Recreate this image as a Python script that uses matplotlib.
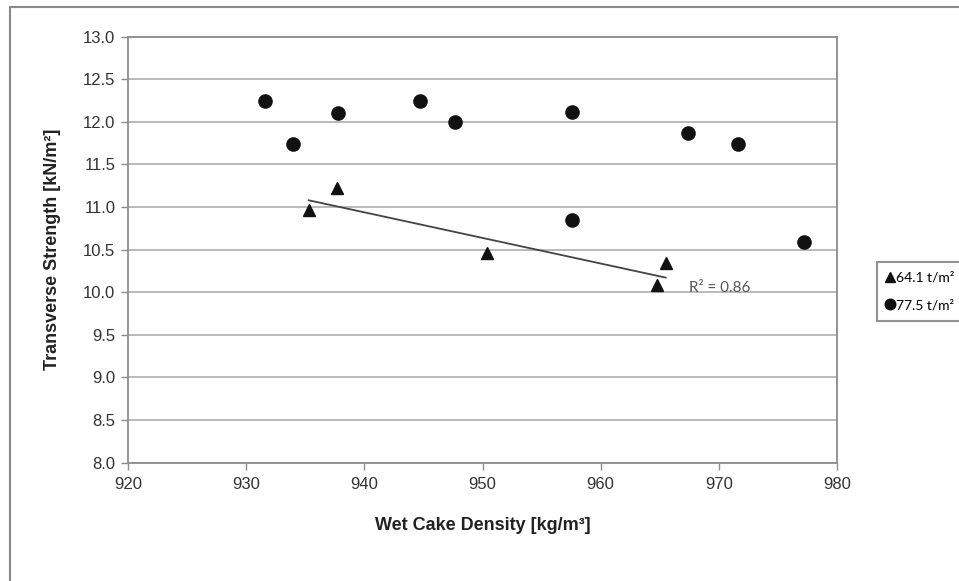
import numpy as np
import matplotlib
matplotlib.use('agg')
import matplotlib.pyplot as plt
from matplotlib.patches import Rectangle

# data
tri_x = [935.3, 937.7, 950.4, 964.8, 965.5]
tri_y = [10.97, 11.22, 10.46, 10.09, 10.34]
circ_x = [931.6, 934.0, 937.8, 944.7, 947.7, 957.6, 957.6, 967.4, 971.6, 977.2]
circ_y = [12.25, 11.74, 12.11, 12.25, 12.00, 12.12, 10.85, 11.87, 11.74, 10.59]
tri_label = '64.1 t/m²'
circ_label = '77.5 t/m²'
r2_text = 'R² = 0.86'
x_ticks = [920, 930, 940, 950, 960, 970, 980]
y_ticks = np.arange(8.0, 13.01, 0.5)

plt.rcParams['font.family'] = ['Liberation Sans', 'DejaVu Sans']

fig = plt.figure(figsize=(9.59, 5.81), dpi=100)
fig.patch.set_facecolor('white')

# outer chart frame (clipped at right and bottom like the reference)
fig.patches.append(Rectangle((10 / 959, -0.05), 1.1, 1 - 7 / 581 + 0.05,
                             transform=fig.transFigure, fill=False,
                             edgecolor='#8a8a8a', linewidth=1.5, zorder=0))

ax = fig.add_axes([128 / 959, 1 - 462.7 / 581, (837 - 128) / 959, (462.7 - 36.7) / 581])

ax.set_xlim(920, 980)
ax.set_ylim(8.0, 13.0)
ax.set_xticks(x_ticks)
ax.set_yticks(y_ticks)
ax.set_yticklabels(['%.1f' % v for v in y_ticks])
ax.yaxis.grid(True, color='#b4b4b4', linewidth=1.3)
ax.set_axisbelow(True)
for s in ax.spines.values():
    s.set_color('#8c8c8c')
    s.set_linewidth(1.3)
ax.tick_params(axis='both', colors='#8c8c8c', labelcolor='#333333',
               labelsize=12, length=5, width=1)
ax.tick_params(axis='y', pad=4)
ax.tick_params(axis='x', pad=5)

ax.plot(tri_x, tri_y, linestyle='none', marker='^', markersize=8.5,
        color='#111111', label=tri_label)
ax.plot(circ_x, circ_y, linestyle='none', marker='o', markersize=9.5,
        color='#111111', label=circ_label)

# linear trendline for the triangle series
k, b = np.polyfit(tri_x, tri_y, 1)
fx = np.array([min(tri_x), max(tri_x)])
ax.plot(fx, k * fx + b, color='#444444', linewidth=1.3)
ax.text(967.5, 10.05, r2_text, fontsize=11, color='#555555',
        family=['Lato', 'DejaVu Sans'], va='center', ha='left')

ax.set_xlabel('Wet Cake Density [kg/m³]', fontsize=13, fontweight='bold',
              color='#222222', labelpad=18)
ax.set_ylabel('Transverse Strength [kN/m²]', fontsize=13, fontweight='bold',
              color='#222222', labelpad=16)

leg = fig.legend(loc='upper left', bbox_to_anchor=(877 / 959, 1 - 262 / 581),
                 frameon=True, fancybox=False, handlelength=0.5,
                 handletextpad=0.15, borderpad=0.7, labelspacing=1.1,
                 borderaxespad=0, markerscale=0.8,
                 prop={'family': ['Lato', 'DejaVu Sans'], 'size': 10})
leg.get_frame().set_edgecolor('#777777')
leg.get_frame().set_linewidth(1.5)
# legend frame runs off the right edge like the reference
leg._legend_box.align = 'left'

fig.savefig('out.png', dpi=100)
